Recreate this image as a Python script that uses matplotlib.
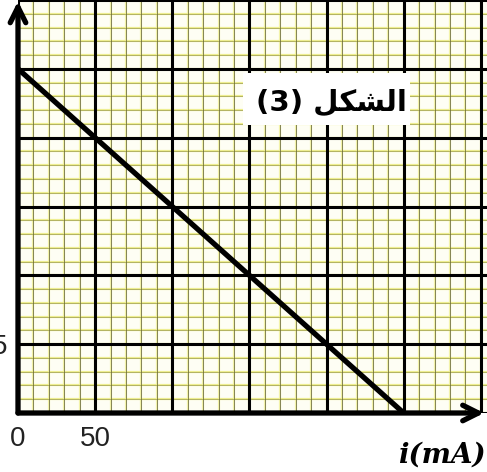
import matplotlib
matplotlib.use('Agg')
import matplotlib.pyplot as plt
from matplotlib.patches import Rectangle
import numpy as np

# data
current_ma = [0, 250]          # i (mA)
voltage = [25, 0]              # y value at i = 0 and at the x intercept
x_major = [0, 50, 100, 150, 200, 250, 300]
y_major = [0, 5, 10, 15, 20, 25, 30]
x_labels = ['0', '50', '', '', '', '', '']
y_labels = ['', '5', '', '', '', '', '']
x_minor_step = 10
y_minor_step = 1
title_text = '(3) \uFEDE\uFEDC\uFEB8\uFEDF\uFE8D'   # "الشكل (3)" in visual order
xlabel_text = 'i(mA)'

W, H = 487, 472
fig = plt.figure(figsize=(W / 100, H / 100), dpi=100)
ax = fig.add_axes([18 / W, 59 / H, 469 / W, 413 / H])
ax.set_xlim(0, 304)
ax.set_ylim(0, 30)
ax.set_facecolor('#fefef4')

# graph paper: yellow-tinted minor lines, dark major lines
x_minor = np.arange(0, 305, x_minor_step)
y_minor = np.arange(0, 31, y_minor_step)
for x in x_minor:
    ax.axvline(x, color='#f2f2a8', lw=1.6, zorder=0.5)
    ax.axvline(x, color='#3c3c1c', lw=0.7, alpha=0.6, zorder=0.6)
for y in y_minor:
    ax.axhline(y, color='#eeee90', lw=1.6, zorder=0.5)
    ax.axhline(y, color='#6a6a2a', lw=0.7, alpha=0.45, zorder=0.6)
for x in x_major:
    ax.axvline(x, color='black', lw=2.2, zorder=1)
for y in y_major:
    ax.axhline(y, color='black', lw=2.2, zorder=1)

ax.plot(current_ma, voltage, color='black', lw=3.8, solid_capstyle='butt', zorder=3)

for s in ax.spines.values():
    s.set_visible(False)
ax.set_xticks(x_major)
ax.set_xticklabels(x_labels)
ax.set_yticks(y_major)
ax.set_yticklabels(y_labels)
ax.tick_params(length=0, labelsize=20, colors='#222222')
ax.tick_params(axis='x', pad=9)
ax.tick_params(axis='y', pad=8)
for lab in ax.get_xticklabels() + ax.get_yticklabels():
    lab.set_family('Liberation Sans')

# axes with arrow heads
arrow = dict(arrowstyle='->', lw=3.8, color='black', mutation_scale=28,
             shrinkA=0, shrinkB=0)
ax.annotate('', xy=(0, 0.997), xytext=(0, 0), xycoords='axes fraction',
            arrowprops=arrow, annotation_clip=False, zorder=5)
ax.annotate('', xy=(0.994, 0), xytext=(0, 0), xycoords='axes fraction',
            arrowprops=arrow, annotation_clip=False, zorder=5)

fig.text(486 / W, 1 - 455 / H, xlabel_text, ha='right', va='center',
         family='DejaVu Serif', weight='bold', style='italic', fontsize=20)

# white label box with the figure caption
ax.add_patch(Rectangle((0.480, 0.697), 0.356, 0.126, transform=ax.transAxes,
                       fc='white', ec='none', zorder=5))
ax.text(0.830, 0.752, title_text, transform=ax.transAxes, ha='right', va='center',
        family='DejaVu Sans', weight='bold', fontsize=21, zorder=6)

fig.savefig('out.png', dpi=100, facecolor='white')
